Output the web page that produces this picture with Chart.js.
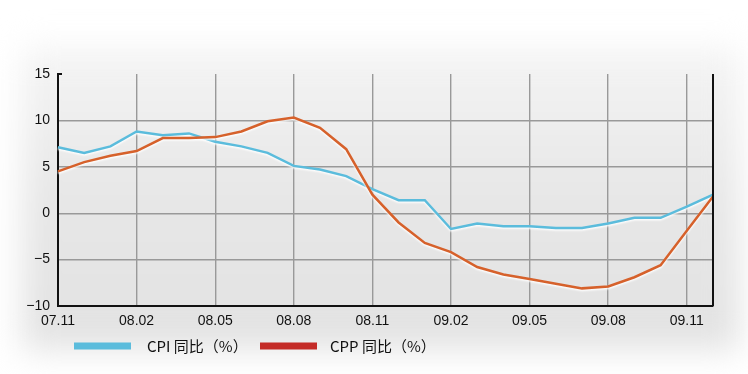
<!DOCTYPE html>
<html>
<head>
<meta charset="utf-8">
<script src="https://cdn.jsdelivr.net/npm/chart.js@4.4.0/dist/chart.umd.min.js"></script>
<style>
    html, body { margin: 0; padding: 0; background: #fff; }
    #wrap { width: 748px; height: 374px; }
</style>
</head>
<body>
<div id="wrap"><canvas id="cpiChart" width="748" height="374"></canvas></div>
<script>
// 월별 라벨 (07.11 ~ 09.12)
const months = ['07.11', '07.12', '08.01', '08.02', '08.03', '08.04', '08.05', '08.06', '08.07',
    '08.08', '08.09', '08.10', '08.11', '08.12', '09.01', '09.02', '09.03', '09.04', '09.05',
    '09.06', '09.07', '09.08', '09.09', '09.10', '09.11', '09.12'];

// CPI 同比 (%)
const cpiValues = [7.1, 6.5, 7.2, 8.8, 8.4, 8.6, 7.7, 7.2, 6.5, 5.1, 4.7, 4.0, 2.6, 1.4, 1.4,
    -1.7, -1.1, -1.4, -1.4, -1.6, -1.6, -1.1, -0.5, -0.5, 0.7, 2.0];

// CPP 同比 (%)
const cppValues = [4.5, 5.5, 6.2, 6.7, 8.1, 8.1, 8.2, 8.8, 9.9, 10.3, 9.2, 6.9, 2.0, -1.0, -3.2,
    -4.2, -5.8, -6.6, -7.1, -7.6, -8.1, -7.9, -6.9, -5.6, -1.9, 1.8];

const yTicks = [-10, -5, 0, 5, 10, 15];
const legendLabels = ['CPI 同比（%）', 'CPP 同比（%）'];
const legendColors = ['#5bbcdc', '#c42b27'];

// 배경 패널 (흐린 회색 카드)
const backgroundPanel = {
    id: 'backgroundPanel',
    beforeDraw(chart) {
        const ctx = chart.ctx;
        ctx.save();
        ctx.fillStyle = '#ffffff';
        ctx.fillRect(0, 0, chart.width, chart.height);
        ctx.filter = 'blur(16px)';
        const g = ctx.createLinearGradient(0, 40, 0, 360);
        g.addColorStop(0, '#f5f5f5');
        g.addColorStop(0.5, '#e7e7e7');
        g.addColorStop(1, '#e2e2e2');
        ctx.fillStyle = g;
        ctx.fillRect(22, 48, 718, 302);
        ctx.restore();
    }
};

// 선 주위 흰색 테두리 효과
const lineGlow = {
    id: 'lineGlow',
    beforeDatasetDraw(chart) {
        const ctx = chart.ctx;
        ctx.save();
        ctx.shadowColor = 'rgba(255,255,255,0.95)';
        ctx.shadowBlur = 2;
        ctx.shadowOffsetY = 1.5;
    },
    afterDatasetDraw(chart) {
        chart.ctx.restore();
    }
};

// 오른쪽 테두리와 위쪽 눈금
const frameLines = {
    id: 'frameLines',
    afterDatasetsDraw(chart) {
        const { ctx, chartArea } = chart;
        ctx.save();
        ctx.strokeStyle = '#111';
        ctx.lineWidth = 2;
        ctx.beginPath();
        ctx.moveTo(chartArea.right, chartArea.top);
        ctx.lineTo(chartArea.right, chartArea.bottom);
        ctx.moveTo(chartArea.left, chartArea.top);
        ctx.lineTo(chartArea.left + 4, chartArea.top);
        ctx.stroke();
        ctx.restore();
    }
};

// 범례 (왼쪽 정렬, 막대형 견본)
const customLegend = {
    id: 'customLegend',
    afterDraw(chart) {
        const ctx = chart.ctx;
        const y = 346;
        const items = [{ x: 74, tx: 147 }, { x: 260, tx: 330 }];
        ctx.save();
        ctx.font = '15px "Noto Sans CJK SC", sans-serif';
        ctx.textBaseline = 'middle';
        ctx.textAlign = 'left';
        items.forEach((it, i) => {
            ctx.fillStyle = legendColors[i];
            ctx.fillRect(it.x, y - 3.5, 57, 7);
            ctx.fillStyle = '#111';
            ctx.fillText(legendLabels[i], it.tx, y);
        });
        ctx.restore();
    }
};

const ctx = document.getElementById('cpiChart').getContext('2d');
new Chart(ctx, {
    type: 'line',
    data: {
        labels: months,
        datasets: [{
            label: legendLabels[0],
            data: cpiValues,
            borderColor: '#5bbcdc',
            borderWidth: 2.5,
            pointRadius: 0,
            tension: 0,
            order: 2
        }, {
            label: legendLabels[1],
            data: cppValues,
            borderColor: '#d6612b',
            borderWidth: 2.5,
            pointRadius: 0,
            tension: 0,
            order: 1
        }]
    },
    options: {
        responsive: false,
        animation: false,
        layout: { padding: { top: 74, right: 35, left: 0, bottom: 42 } },
        plugins: {
            tooltip: { enabled: false },
            legend: { display: false }
        },
        scales: {
            x: {
                type: 'category',
                offset: false,
                border: { color: '#111', width: 2 },
                grid: {
                    drawTicks: false,
                    lineWidth: 1.4,
                    color: c => (c.index % 3 === 0 && c.index > 0) ? '#999' : 'rgba(0,0,0,0)'
                },
                ticks: {
                    autoSkip: false,
                    maxRotation: 0,
                    padding: 7,
                    color: '#111',
                    font: { family: '"Liberation Sans", Arial, sans-serif', size: 14 },
                    callback: (v, i) => (i % 3 === 0 ? months[i] : '')
                },
                afterFit: scale => { scale.height = 26; }
            },
            y: {
                min: yTicks[0],
                max: yTicks[yTicks.length - 1],
                border: { color: '#111', width: 2 },
                grid: {
                    drawTicks: false,
                    lineWidth: 1.4,
                    color: c => (c.tick.value > -10 && c.tick.value < 15) ? '#999' : 'rgba(0,0,0,0)'
                },
                ticks: {
                    stepSize: 5,
                    padding: 8,
                    color: '#111',
                    font: { family: '"Liberation Sans", Arial, sans-serif', size: 14 },
                    callback: v => (v < 0 ? '\u2212' + Math.abs(v) : String(v))
                },
                afterFit: scale => { scale.width = 58; }
            }
        }
    },
    plugins: [backgroundPanel, lineGlow, frameLines, customLegend]
});
</script>
</body>
</html>
